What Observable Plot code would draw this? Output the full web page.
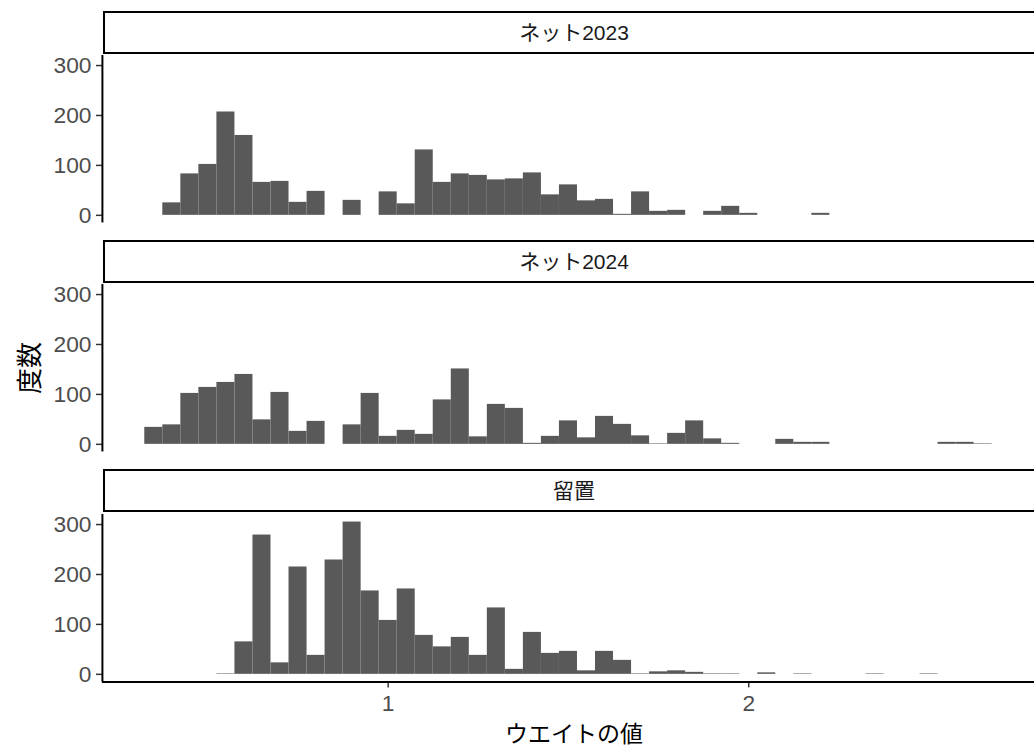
<!DOCTYPE html>
<html>
<head>
<meta charset="utf-8">
<script src="https://cdn.jsdelivr.net/npm/d3@7"></script>
<script src="https://cdn.jsdelivr.net/npm/@observablehq/plot@0.6"></script>
<style>
  html, body { margin: 0; padding: 0; background: #fff; overflow: hidden; }
  #chart { position: relative; width: 1034px; height: 747px; overflow: hidden; background: #fff;
           font-family: "Liberation Sans", "Noto Sans CJK JP", sans-serif; }
  .strip { position: absolute; box-sizing: border-box; border: 2px solid #000; background: #fff;
           display: flex; align-items: center; justify-content: center;
           font-size: 21px; line-height: 1; color: #1a1a1a; }
  .panel { position: absolute; left: 0; }
  .title { position: absolute; color: #000; font-family: "Noto Sans CJK JP", sans-serif;
           white-space: nowrap; line-height: 1; }
</style>
</head>
<body>
<div id="chart"></div>
<script>
// Histogram bins (bin centres, width 0.05)
const bins = [0.35, 0.40, 0.45, 0.50, 0.55, 0.60, 0.65, 0.70, 0.75, 0.80,
              0.85, 0.90, 0.95, 1.00, 1.05, 1.10, 1.15, 1.20, 1.25, 1.30,
              1.35, 1.40, 1.45, 1.50, 1.55, 1.60, 1.65, 1.70, 1.75, 1.80,
              1.85, 1.90, 1.95, 2.00, 2.05, 2.10, 2.15, 2.20, 2.25, 2.30,
              2.35, 2.40, 2.45, 2.50, 2.55, 2.60, 2.65];
const binWidth = 0.05;

// Counts per bin for each survey mode
const net2023 = [0, 25, 83, 102, 207, 160, 66, 68, 26, 48,
                 0, 30, 0, 47, 23, 131, 66, 83, 80, 71,
                 73, 85, 41, 61, 29, 32, 2, 47, 8, 10,
                 0, 8, 18, 4, 0, 0, 0, 4, 0, 0,
                 0, 0, 0, 0, 0, 0, 0];
const net2024 = [34, 39, 102, 114, 124, 140, 49, 104, 26, 46,
                 0, 39, 102, 16, 28, 20, 89, 151, 15, 80,
                 72, 2, 16, 47, 13, 56, 40, 17, 1, 22,
                 47, 11, 2, 0, 0, 10, 4, 4, 0, 0,
                 0, 0, 0, 0, 4, 4, 1];
const ryuchi  = [0, 0, 0, 0, 1, 65, 279, 23, 215, 38,
                 229, 305, 167, 108, 171, 78, 55, 74, 38, 133,
                 10, 84, 42, 46, 7, 46, 28, 1, 5, 7,
                 4, 1, 1, 0, 3, 0, 1, 0, 0, 0,
                 1, 0, 0, 1, 0, 0, 0];

const facetLabels = ["ネット2023", "ネット2024", "留置"];
const facetCounts = [net2023, net2024, ryuchi];
const xTicks = [1, 2];
const yTicks = [0, 100, 200, 300];
const xLabel = "ウエイトの値";
const yLabel = "度数";

// Shared scales (ggplot-style 5% expansion)
const lo = bins[0] - binWidth / 2, hi = bins[bins.length - 1] + binWidth / 2;
const xDomain = [lo - 0.05 * (hi - lo), hi + 0.05 * (hi - lo)];
const yMax = d3.max(facetCounts.flat());
const yDomain = [-0.05 * yMax, 1.05 * yMax];

const chart = document.getElementById("chart");

// layout of the three stacked panels
const panelTop = [55, 284, 513.5];
const stripTop = [11, 240, 469];
const panelH = 169.3;
const mLeft = 103, svgW = 1045;
const tickFont = "'Liberation Sans', Arial, sans-serif";

facetCounts.forEach((counts, i) => {
  const rows = bins.map((b, j) => ({bin: b, count: counts[j]})).filter(d => d.count > 0);
  const last = i === facetCounts.length - 1;
  const mt = 6, mb = last ? 40 : 6;

  const strip = document.createElement("div");
  strip.className = "strip";
  strip.style.left = mLeft + "px";
  strip.style.top = stripTop[i] + "px";
  strip.style.width = (svgW - mLeft) + "px";
  strip.style.height = "43px";
  strip.textContent = facetLabels[i];
  chart.appendChild(strip);

  const marks = [
    Plot.rectY(rows, {x1: d => d.bin - binWidth / 2, x2: d => d.bin + binWidth / 2, y1: 0, y2: "count",
                      fill: "#595959", inset: 0}),
    Plot.axisY({ticks: yTicks, tickSize: 6, tickPadding: 5, stroke: "#333333", fill: "#4d4d4d",
                strokeWidth: 1.5, fontSize: 23, label: null}),
    Plot.ruleX([xDomain[0]], {stroke: "#000", strokeWidth: 2})
  ];
  if (last) {
    marks.push(Plot.axisX({ticks: xTicks, tickFormat: d3.format("d"), tickSize: 6, tickPadding: 7,
                           stroke: "#333333", fill: "#4d4d4d", strokeWidth: 1.5, fontSize: 23, label: null}));
    marks.push(Plot.ruleY([yDomain[0]], {stroke: "#000", strokeWidth: 2}));
  }

  const svg = Plot.plot({
    width: svgW,
    height: mt + panelH + mb,
    marginLeft: mLeft, marginRight: 0, marginTop: mt, marginBottom: mb,
    style: {background: "transparent", overflow: "visible", fontFamily: tickFont},
    x: {domain: xDomain, axis: last ? undefined : null},
    y: {domain: yDomain},
    marks
  });
  svg.classList.add("panel");
  svg.style.top = (panelTop[i] - mt) + "px";
  chart.appendChild(svg);
});

// axis titles
const xt = document.createElement("div");
xt.className = "title";
xt.textContent = xLabel;
xt.style.fontSize = "23px";
xt.style.left = "574px";
xt.style.top = "732px";
xt.style.transform = "translate(-50%, -50%)";
chart.appendChild(xt);

const yt = document.createElement("div");
yt.className = "title";
yt.textContent = yLabel;
yt.style.fontSize = "26px";
yt.style.left = "28px";
yt.style.top = "368px";
yt.style.transform = "translate(-50%, -50%) rotate(-90deg)";
chart.appendChild(yt);
</script>
</body>
</html>
